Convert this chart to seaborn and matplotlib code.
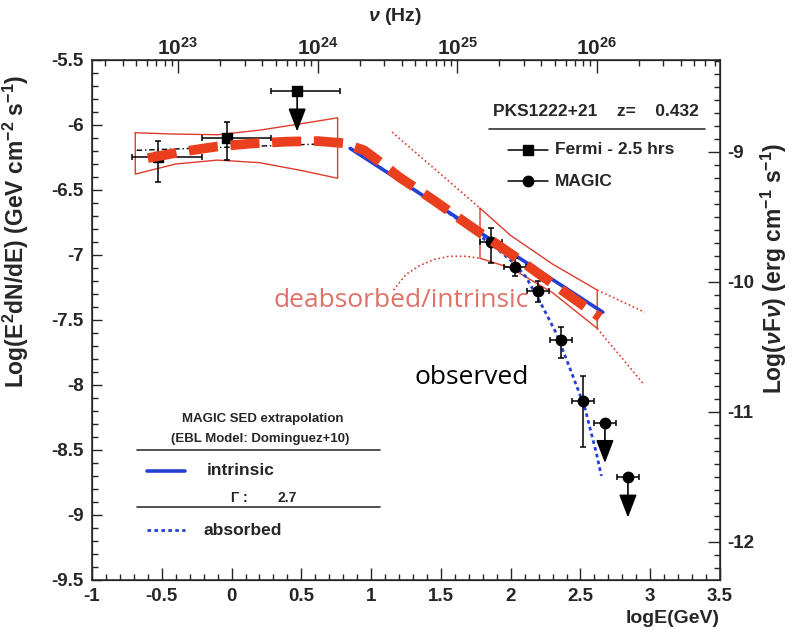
import numpy as np
import matplotlib
matplotlib.use("Agg")
import matplotlib.pyplot as plt
from matplotlib.ticker import MultipleLocator, FormatStrFormatter, LogLocator, NullFormatter
import seaborn as sns

# Fermi-LAT 2.5 hrs (logE [GeV], log E2dN/dE)
fermi_x = [-0.53, -0.03]
fermi_y = [-6.25, -6.10]
fermi_xlo = [-0.71, -0.21]
fermi_xhi = [-0.21, 0.28]
fermi_ylo = [-6.44, -6.27]
fermi_yhi = [-6.12, -5.98]
fermi_ul_x = [0.47]
fermi_ul_y = [-5.74]
fermi_ul_xlo = [0.28]
fermi_ul_xhi = [0.78]
fermi_ul_tip = [-6.05]

# MAGIC
magic_x = [1.86, 2.03, 2.195, 2.36, 2.52]
magic_y = [-6.90, -7.095, -7.28, -7.655, -8.12]
magic_xerr = [0.08, 0.08, 0.08, 0.08, 0.08]
magic_ylo = [-7.06, -7.165, -7.36, -7.79, -8.48]
magic_yhi = [-6.79, -7.025, -7.20, -7.555, -7.93]
magic_ul_x = [2.675, 2.84]
magic_ul_y = [-8.29, -8.71]
magic_ul_xerr = [0.08, 0.08]
magic_ul_tip = [-8.60, -9.02]

# fermi fit + butterfly
fermi_fit_x = [-0.68, 0.80]
fermi_fit_y = [-6.195, -6.14]
fbow_x = [-0.69, -0.40, -0.10, 0.20, 0.50, 0.76]
fbow_top = [-6.06, -6.07, -6.075, -6.04, -5.99, -5.945]
fbow_bot = [-6.378, -6.30, -6.27, -6.29, -6.35, -6.41]

# MAGIC butterfly + extrapolation
mbow_x = [1.78, 2.00, 2.30, 2.62]
mbow_top = [-6.64, -6.85, -7.07, -7.27]
mbow_bot = [-7.025, -7.10, -7.29, -7.565]
ext_up_left_x = [1.15, 1.78]
ext_up_left_y = [-6.055, -6.64]
ext_up_right_x = [2.62, 2.96]
ext_up_right_y = [-7.27, -7.44]
ext_lo_left_x = [1.16, 1.25, 1.35, 1.45, 1.56, 1.68, 1.78]
ext_lo_left_y = [-7.27, -7.15, -7.08, -7.035, -7.01, -7.01, -7.025]
ext_lo_right_x = [2.62, 2.95]
ext_lo_right_y = [-7.565, -7.99]

# deabsorbed / intrinsic (thick red dashed)
deabs_x = [-0.60, -0.35, -0.10, 0.15, 0.40, 0.62, 0.80, 0.95, 1.07, 1.20, 1.45, 1.70, 2.00, 2.30, 2.64]
deabs_y = [-6.255, -6.205, -6.165, -6.142, -6.128, -6.124, -6.14, -6.195, -6.29, -6.40, -6.58,
           -6.77, -6.99, -7.22, -7.48]

# EBL model curves
intr_x = [0.85, 2.66]
intr_y = [-6.18, -7.44]
abs_x = [0.85, 1.30, 1.60, 1.75, 1.90, 2.02, 2.11, 2.21, 2.33, 2.42, 2.53, 2.615, 2.65]
abs_y = [-6.18, -6.49, -6.71, -6.83, -6.95, -7.06, -7.17, -7.36, -7.61, -7.86, -8.17, -8.53, -8.70]

GEV_TO_ERG = np.log10(1.602e-3)
GEV_TO_HZ = np.log10(2.418e23)

sns.set_style("ticks")
plt.rcParams['font.family'] = ['Liberation Sans', 'DejaVu Sans']
plt.rcParams['font.weight'] = 'bold'
plt.rcParams['axes.unicode_minus'] = False
plt.rcParams['mathtext.fontset'] = 'custom'
plt.rcParams['mathtext.rm'] = 'Liberation Sans:bold'
plt.rcParams['mathtext.bf'] = 'Liberation Sans:bold'
plt.rcParams['mathtext.it'] = 'Liberation Sans:bold:italic'

RED = '#ea3f1f'
THIN_RED = '#dc3c2c'
BLUE = '#2440d2'

fig = plt.figure(figsize=(7.91, 6.32), dpi=100)
ax = fig.add_axes([0.1163, 0.0823, 0.794, 0.8228])

# butterflies
ax.plot(fbow_x + fbow_x[::-1] + fbow_x[:1], fbow_top + fbow_bot[::-1] + fbow_top[:1],
        color=THIN_RED, lw=1.0, zorder=2)
ax.plot(mbow_x + mbow_x[::-1] + mbow_x[:1], mbow_top + mbow_bot[::-1] + mbow_top[:1],
        color=THIN_RED, lw=1.0, zorder=2)
for ex, ey in [(ext_up_left_x, ext_up_left_y), (ext_up_right_x, ext_up_right_y),
               (ext_lo_left_x, ext_lo_left_y), (ext_lo_right_x, ext_lo_right_y)]:
    ax.plot(ex, ey, color=THIN_RED, lw=1.2, ls=(0, (1, 1.6)), zorder=2)

# fermi fit
ax.plot(fermi_fit_x, fermi_fit_y, color='black', lw=1.0, ls=(0, (4, 2, 1, 2)), zorder=2)

# EBL model lines
sns.lineplot(x=intr_x, y=intr_y, color=BLUE, lw=2.6, sort=False, estimator=None, ax=ax, zorder=3)
sns.lineplot(x=abs_x, y=abs_y, color=BLUE, lw=2.0, ls=(0, (1.3, 1.2)), sort=False,
             estimator=None, ax=ax, zorder=3)

# data points
fx = np.array(fermi_x)
ax.errorbar(fermi_x, fermi_y,
            xerr=[fx - np.array(fermi_xlo), np.array(fermi_xhi) - fx],
            yerr=[np.array(fermi_y) - np.array(fermi_ylo), np.array(fermi_yhi) - np.array(fermi_y)],
            fmt='s', color='black', ms=7, lw=1.1, capsize=2.5, capthick=1.1, zorder=4)
ux = np.array(fermi_ul_x)
ax.errorbar(fermi_ul_x, fermi_ul_y, xerr=[ux - np.array(fermi_ul_xlo), np.array(fermi_ul_xhi) - ux],
            fmt='s', color='black', ms=7, lw=1.1, capsize=2.5, capthick=1.1, zorder=4)
my = np.array(magic_y)
ax.errorbar(magic_x, magic_y, xerr=magic_xerr,
            yerr=[my - np.array(magic_ylo), np.array(magic_yhi) - my],
            fmt='o', color='black', ms=7.5, lw=1.1, capsize=2.5, capthick=1.1, zorder=4)
ax.errorbar(magic_ul_x, magic_ul_y, xerr=magic_ul_xerr,
            fmt='o', color='black', ms=7.5, lw=1.1, capsize=2.5, capthick=1.1, zorder=4)

arrow_style = dict(arrowstyle='-|>,head_length=1.3,head_width=0.5', mutation_scale=11,
                   color='black', lw=1.2, shrinkA=0, shrinkB=0)
for x0, y0, y1 in zip(fermi_ul_x + magic_ul_x, fermi_ul_y + magic_ul_y, fermi_ul_tip + magic_ul_tip):
    ax.annotate('', xy=(x0, y1), xytext=(x0, y0), arrowprops=arrow_style, zorder=4)

# deabsorbed spectrum on top
sns.lineplot(x=deabs_x, y=deabs_y, color=RED, lw=7.0, ls=(0, (3.0, 1.3)), sort=False,
             estimator=None, ax=ax, zorder=5)

# annotations
ax.text(0.30, -7.35, 'deabsorbed/intrinsic', color='#e07068', fontsize=19, family='Open Sans',
        fontweight='normal', va='center', ha='left', zorder=6)
ax.text(1.31, -7.94, 'observed', color='black', fontsize=19, family='Open Sans',
        fontweight='normal', va='center', ha='left', zorder=6)

# axes
ax.set_xlim(-1, 3.5)
ax.set_ylim(-9.5, -5.5)
ax.xaxis.set_major_locator(MultipleLocator(0.5))
ax.xaxis.set_minor_locator(MultipleLocator(0.1))
ax.yaxis.set_major_locator(MultipleLocator(0.5))
ax.yaxis.set_minor_locator(MultipleLocator(0.1))
ax.xaxis.set_major_formatter(FormatStrFormatter('%g'))
ax.yaxis.set_major_formatter(FormatStrFormatter('%g'))
ax.tick_params(axis='both', which='both', direction='in', labelsize=13.5, width=1.0)
ax.tick_params(axis='x', which='major', length=9, pad=6)
ax.tick_params(axis='x', which='minor', length=4.5)
ax.tick_params(axis='y', which='major', length=7, pad=6)
ax.tick_params(axis='y', which='minor', length=4)
for s in ax.spines.values():
    s.set_linewidth(1.1)
ax.set_xlabel('logE(GeV)', fontsize=14, fontweight='bold', ha='right')
ax.xaxis.set_label_coords(1.0, -0.057)
ax.set_ylabel(r'Log(E$^{2}$dN/dE) (GeV cm$^{-2}$ s$^{-1}$)', fontsize=16.5, fontweight='bold')
ax.yaxis.set_label_coords(-0.097, 0.671)

# right axis: log nuFnu in erg
ax2 = ax.twinx()
ax2.set_ylim(-9.5 + GEV_TO_ERG, -5.5 + GEV_TO_ERG)
ax2.yaxis.set_major_locator(MultipleLocator(1))
ax2.yaxis.set_minor_locator(MultipleLocator(0.1))
ax2.yaxis.set_major_formatter(FormatStrFormatter('%g'))
ax2.tick_params(axis='y', which='both', direction='in', labelsize=13.5, width=1.0, pad=5)
ax2.tick_params(axis='y', which='major', length=9)
ax2.tick_params(axis='y', which='minor', length=4.5)
ax2.set_ylabel(r'Log($\nu$F$\nu$) (erg cm$^{-1}$ s$^{-1}$)', fontsize=16.5, fontweight='bold')
ax2.yaxis.set_label_coords(1.062, 0.60)

# top axis: frequency
ax3 = ax.twiny()
ax3.set_xscale('log')
ax3.set_xlim(10 ** (-1 + GEV_TO_HZ), 10 ** (3.5 + GEV_TO_HZ))
ax3.xaxis.set_major_locator(LogLocator(base=10))
ax3.xaxis.set_minor_locator(LogLocator(base=10, subs=np.arange(2, 10)))
ax3.xaxis.set_minor_formatter(NullFormatter())
ax3.tick_params(axis='x', which='both', direction='in', labelsize=15, width=1.0, pad=1)
ax3.tick_params(axis='x', which='major', length=9)
ax3.tick_params(axis='x', which='minor', length=4.5)
ax3.set_xlabel(r'$\nu$ (Hz)', fontsize=14, fontweight='bold')
ax3.xaxis.set_label_coords(0.482, 1.074)

# top-right legend
ax.text(0.803, 0.90, 'PKS1222+21    z=    0.432', transform=ax.transAxes, fontsize=12.5,
        ha='center', va='center')
ax.plot([0.632, 0.976], [0.867, 0.867], transform=ax.transAxes, color='#333333', lw=1.2)
ax.plot([0.662, 0.726], [0.827, 0.827], transform=ax.transAxes, color='black', lw=1.1)
ax.plot([0.694], [0.827], transform=ax.transAxes, color='black', marker='s', ms=7, ls='')
ax.plot([0.662, 0.726], [0.767, 0.767], transform=ax.transAxes, color='black', lw=1.1)
ax.plot([0.694], [0.767], transform=ax.transAxes, color='black', marker='o', ms=7.5, ls='')
ax.text(0.737, 0.827, 'Fermi - 2.5 hrs', transform=ax.transAxes, fontsize=12.5, va='center')
ax.text(0.737, 0.767, 'MAGIC', transform=ax.transAxes, fontsize=12.5, va='center')

# bottom-left legend
ax.text(0.272, 0.310, 'MAGIC SED extrapolation', transform=ax.transAxes, fontsize=9.5,
        ha='center', va='center')
ax.text(0.268, 0.271, '(EBL Model: Dominguez+10)', transform=ax.transAxes, fontsize=9.5,
        ha='center', va='center')
ax.plot([0.0717, 0.459], [0.25, 0.25], transform=ax.transAxes, color='#333333', lw=1.2)
ax.plot([0.0876, 0.148], [0.2096, 0.2096], transform=ax.transAxes, color=BLUE, lw=2.6)
ax.text(0.183, 0.2096, 'intrinsic', transform=ax.transAxes, fontsize=12.5, va='center')
ax.text(0.22, 0.158, r'$\Gamma$ :', transform=ax.transAxes, fontsize=10, va='center')
ax.text(0.296, 0.158, '2.7', transform=ax.transAxes, fontsize=10, va='center')
ax.plot([0.0717, 0.459], [0.140, 0.140], transform=ax.transAxes, color='#333333', lw=1.2)
ax.plot([0.0876, 0.148], [0.096, 0.096], transform=ax.transAxes, color=BLUE, lw=2.0,
        ls=(0, (1.3, 1.2)))
ax.text(0.177, 0.096, 'absorbed', transform=ax.transAxes, fontsize=12.5, va='center')

fig.savefig('out.png', dpi=100)
